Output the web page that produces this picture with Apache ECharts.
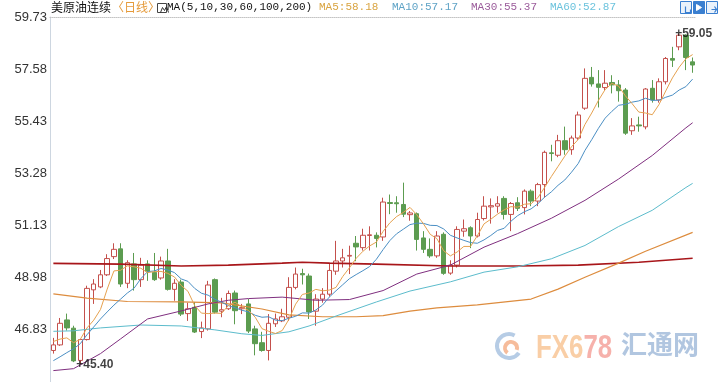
<!DOCTYPE html>
<html><head><meta charset="utf-8">
<script src="https://cdn.jsdelivr.net/npm/echarts@6/dist/echarts.min.js"></script>
<style>html,body{margin:0;padding:0;background:#fff;}#c{width:719px;height:382px;}</style>
</head><body><div id="c"></div>
<script>
// ---- data ----
const categories = ['1','2','3','4','5','6','7','8','9','10','11','12','13','14','15','16','17','18','19','20',
'21','22','23','24','25','26','27','28','29','30','31','32','33','34','35','36','37','38','39','40',
'41','42','43','44','45','46','47','48','49','50','51','52','53','54','55','56','57','58','59','60',
'61','62','63','64','65','66','67','68','69','70','71','72','73','74','75','76','77','78','79','80',
'81','82','83','84','85','86','87','88','89','90','91','92','93','94','95','96'];

const openP = [45.98,46.21,47.24,46.90,45.57,46.43,48.48,48.60,49.10,49.85,
50.17,48.75,49.55,48.90,49.55,49.20,48.97,49.67,48.50,48.80,
47.50,47.76,46.76,46.87,48.90,47.60,47.70,48.35,47.70,47.90,
46.87,46.30,45.98,47.08,47.20,47.35,48.58,49.15,49.05,47.60,
48.10,48.30,49.25,49.67,49.87,50.40,50.22,50.72,50.73,50.66,
52.08,52.07,52.00,51.58,51.62,50.62,50.15,49.88,50.77,49.17,
49.50,50.90,51.04,50.70,51.42,51.90,51.93,52.25,51.59,52.07,
51.87,52.55,52.14,52.82,54.13,54.03,54.63,54.26,54.74,55.97,
57.24,56.97,56.82,57.03,56.93,56.72,55.04,55.28,55.20,56.79,
56.31,57.06,58.02,58.50,58.98,57.88];
const closeP = [46.21,47.10,46.91,45.55,46.43,48.54,48.72,49.10,49.77,50.15,
48.72,49.60,48.90,49.50,49.25,48.90,49.67,48.50,48.75,47.48,
47.70,46.74,46.91,48.68,47.56,47.66,48.33,47.62,47.75,46.78,
46.26,45.98,47.10,47.28,47.37,48.58,49.13,49.10,47.57,48.10,
48.30,49.28,49.67,49.80,49.90,50.25,50.73,50.75,50.60,52.10,
52.04,52.03,51.60,51.65,50.56,50.15,49.88,50.70,49.16,49.50,
50.97,51.00,50.70,51.38,51.93,51.95,52.03,51.59,52.04,51.84,
52.55,52.14,52.82,54.15,54.10,54.63,54.26,54.74,55.69,57.20,
56.97,56.83,57.00,56.93,56.69,54.94,55.24,55.24,56.76,56.31,
57.06,58.02,57.95,58.98,58.06,57.75];
const lowP = [45.85,46.17,46.80,45.50,45.40,46.39,47.90,48.55,49.05,49.75,
48.60,48.55,48.45,48.60,48.85,48.85,48.90,48.45,48.03,47.40,
47.20,46.70,46.49,46.80,47.50,47.35,47.65,47.06,47.48,46.70,
45.78,45.93,45.57,46.95,47.15,47.20,48.50,48.70,47.28,47.00,
47.95,48.20,49.10,49.40,49.13,49.66,50.10,50.10,50.23,50.50,
51.60,51.66,51.48,51.33,50.10,50.00,49.80,49.80,49.10,49.10,
49.40,50.67,50.20,50.64,51.34,51.21,51.66,51.38,50.90,51.73,
51.59,51.93,51.93,52.28,53.78,53.95,54.05,54.05,54.67,55.90,
56.86,56.00,56.72,56.58,56.24,54.87,54.87,55.00,55.10,56.20,
56.20,56.95,57.67,58.36,57.54,57.43];
const highP = [46.50,47.32,47.50,47.00,46.45,48.65,48.92,49.30,49.95,50.40,
50.40,49.70,50.00,49.80,49.70,50.00,49.85,50.17,48.92,48.90,
47.95,47.98,47.17,48.85,48.95,48.15,48.45,48.45,47.90,48.10,
47.00,46.75,47.48,47.50,47.70,49.00,49.40,49.35,49.15,48.30,
48.55,49.60,50.50,50.17,50.30,50.70,51.00,51.10,50.85,52.28,
52.41,52.34,52.90,51.73,51.67,50.90,50.60,50.90,50.85,49.70,
51.10,51.38,51.10,51.66,52.34,52.25,52.34,52.34,52.10,52.30,
52.62,52.62,52.89,54.22,54.46,54.87,55.21,54.84,55.83,57.61,
57.67,57.54,57.54,57.33,57.13,56.80,55.56,55.62,56.80,57.13,
57.20,58.08,58.50,59.05,59.02,58.06];

const ma5 = [46.35,46.45,46.50,46.30,46.44,46.91,47.23,47.67,48.51,49.26,
49.29,49.47,49.43,49.37,49.19,49.23,49.24,49.16,49.01,48.66,
48.42,47.83,47.52,47.50,47.52,47.51,47.83,47.97,47.78,47.63,
47.35,46.88,46.77,46.68,46.80,47.26,47.89,48.29,48.35,48.50,
48.44,48.47,48.58,49.03,49.39,49.78,50.07,50.29,50.45,50.89,
51.24,51.50,51.67,51.88,51.58,51.20,50.77,50.59,50.09,49.88,
50.04,50.27,50.27,50.71,51.20,51.39,51.60,51.78,51.91,51.89,
52.01,52.03,52.28,52.70,53.15,53.57,53.99,54.38,54.68,55.30,
55.77,56.29,56.74,56.99,56.88,56.48,56.16,55.81,55.77,55.70,
56.12,56.68,57.22,57.66,58.01,58.18];
const ma10 = [45.56,45.72,45.89,46.05,46.26,46.63,46.95,47.28,47.57,47.85,
48.10,48.35,48.55,48.94,49.23,49.26,49.36,49.30,49.19,48.93,
48.83,48.54,48.34,48.26,48.09,47.97,47.83,47.74,47.64,47.57,
47.43,47.35,47.37,47.23,47.21,47.31,47.39,47.53,47.52,47.65,
47.85,48.18,48.44,48.69,48.94,49.11,49.27,49.44,49.74,50.14,
50.51,50.79,50.98,51.17,51.23,51.22,51.14,51.13,50.99,50.73,
50.62,50.52,50.43,50.40,50.54,50.72,50.93,51.02,51.31,51.54,
51.70,51.82,52.03,52.30,52.52,52.79,53.01,53.33,53.69,54.23,
54.67,55.14,55.56,55.84,56.09,56.13,56.22,56.27,56.38,56.29,
56.30,56.42,56.51,56.72,56.86,57.17];
// long averages read at sample candles: [candle index, value]
const ma30 = [[0,45.15],[3,45.23],[7,45.85],[10,46.46],[14,47.28],[19,47.61],[23,47.90],[26,48.05],
[29,48.12],[34,48.18],[39,48.05],[44,48.08],[49,48.45],[54,49.13],[59,49.50],[64,50.24],[69,50.80],
[74,51.43],[79,52.17],[84,53.05],[89,54.02],[94,55.16],[95,55.37]];
const ma60 = [[0,46.77],[3,46.79],[7,46.91],[13,47.03],[19,46.99],[24,46.83],[28,46.67],[31,46.60],
[35,46.75],[38,46.99],[42,47.40],[48,47.98],[53,48.43],[59,48.81],[64,49.21],[69,49.43],[74,49.76],
[79,50.31],[84,51.09],[89,51.76],[94,52.70],[95,52.87]];
const ma100 = [[0,48.31],[5,48.14],[11,48.00],[19,47.98],[25,47.94],[31,47.69],[35,47.45],[40,47.37],
[45,47.37],[49,47.42],[53,47.60],[57,47.74],[63,47.86],[71,48.10],[75,48.51],[79,49.00],[84,49.58],
[88,50.07],[95,50.85]];
const ma200 = [[0,49.57],[10,49.54],[19,49.46],[26,49.50],[34,49.58],[37,49.62],[41,49.58],[48,49.54],
[59,49.46],[69,49.46],[78,49.50],[87,49.62],[95,49.78]];

const extremes = [[4,45.40],[93,59.05]];
const yTicks = {min:44.68, max:59.73, step:2.15};
const headerLabels = ['MA5:58.18','MA10:57.17','MA30:55.37','MA60:52.87'];

// ---- chart ----
const candles = openP.map((o,i)=>[o, closeP[i], lowP[i], highP[i]]);
const chart = echarts.init(document.getElementById('c'), null, {renderer:'canvas'});
const line = (name, data, color, w) => ({
  name, type:'line', data, showSymbol:false, symbol:'none', smooth:false, silent:true,
  lineStyle:{color, width:w}, itemStyle:{color}, z:3, connectNulls:true
});
const monoFont = '11px "Liberation Mono"';
chart.setOption({
  animation:false,
  backgroundColor:'#ffffff',
  grid:{left:50, right:23, top:17, bottom:-1.5},
  xAxis:{type:'category', data:categories, position:'top', boundaryGap:true,
    axisLine:{show:true, lineStyle:{color:'#c4c4c4', type:'dotted', width:1}},
    axisTick:{show:false}, axisLabel:{show:false}, splitLine:{show:false}},
  yAxis:{type:'value', min:yTicks.min, max:yTicks.max, interval:yTicks.step, scale:true,
    axisLine:{show:true, lineStyle:{color:'#cdd6e0'}}, axisTick:{show:false},
    splitLine:{show:false},
    axisLabel:{showMinLabel:false, color:'#333', fontSize:13, fontFamily:'Liberation Sans, Arial', margin:3,
      formatter:v=>v.toFixed(2)}},
  series:[
    {type:'candlestick', data:candles, barWidth:5, z:2,
      itemStyle:{color:'#ffffff', color0:'#5c9c50', borderColor:'#c4504c', borderColor0:'#5c9c50', borderWidth:1}},
    line('MA200', ma200, '#a8161a', 1.6),
    line('MA100', ma100, '#dd8c3e', 1.2),
    line('MA60', ma60, '#5cbccc', 1),
    line('MA30', ma30, '#7f2f7f', 1),
    line('MA10', ma10, '#4b8fc4', 1),
    line('MA5', ma5, '#e6a250', 1),
    {type:'scatter', data:extremes, symbolSize:0, z:5, silent:true,
      label:{show:true, position:'right', distance:0, offset:[-4,0], color:'#111',
        fontSize:12, fontWeight:'bold', fontFamily:'Liberation Sans, Arial',
        formatter:p=>'+'+p.value[1].toFixed(2)}}
  ],
  graphic:[
    {type:'text', left:51, top:1, style:{text:'美原油连续', font:'12px "Noto Sans CJK SC"', fill:'#111'}},
    {type:'text', left:112, top:1, style:{text:'〈日线〉', font:'12px "Noto Sans CJK SC"', fill:'#e59a3a'}},
    {type:'rect', left:157, top:3, shape:{width:9, height:9}, style:{fill:'#fff', stroke:'#444', lineWidth:1}},
    {type:'polyline', left:158, top:4, shape:{points:[[0,7],[2,2],[4,5],[6,1],[8,7]]}, style:{stroke:'#333', fill:null, lineWidth:1}},
    {type:'text', left:167, top:2, style:{text:'MA(5,10,30,60,100,200)', font:monoFont, fill:'#111'}},
    {type:'text', left:319, top:2, style:{text:headerLabels[0], font:monoFont, fill:'#d9a441'}},
    {type:'text', left:392, top:2, style:{text:headerLabels[1], font:monoFont, fill:'#5fa3c6'}},
    {type:'text', left:471, top:2, style:{text:headerLabels[2], font:monoFont, fill:'#9b5c9b'}},
    {type:'text', left:550, top:2, style:{text:headerLabels[3], font:monoFont, fill:'#6cc3dd'}},
    // top-right tool icons
    {type:'rect', left:680, top:1, shape:{width:11, height:12}, style:{fill:'#eaf2fb', stroke:'#3a7fd0', lineWidth:1}},
    {type:'rect', left:693, top:1, shape:{width:11, height:12}, style:{fill:'#3a7fd0', stroke:'#3a7fd0', lineWidth:1}},
    {type:'rect', left:706, top:1, shape:{width:11, height:12}, style:{fill:'#eaf2fb', stroke:'#3a7fd0', lineWidth:1}},
    {type:'polyline', left:683, top:4, shape:{points:[[0,0],[0,6],[5,6],[5,3]]}, style:{stroke:'#3a7fd0', fill:null, lineWidth:1.2}},
    {type:'polyline', left:696, top:4, shape:{points:[[0,0],[0,6],[5,3],[0,0]]}, style:{stroke:'#fff', fill:'#fff', lineWidth:1}},
    {type:'polyline', left:709, top:4, shape:{points:[[0,3],[5,3],[3,0],[5,3],[3,6]]}, style:{stroke:'#3a7fd0', fill:null, lineWidth:1.2}},
    // watermark
    {type:'group', silent:true, z:10, children:[
      {type:'arc', shape:{cx:509, cy:346, r:12, startAngle:0.6, endAngle:5.2}, style:{stroke:'#a9c3e0', lineWidth:4, fill:null, opacity:0.85}},
      {type:'arc', shape:{cx:511, cy:348, r:6, startAngle:2.2, endAngle:6.6}, style:{stroke:'#f4b08a', lineWidth:4, fill:null, opacity:0.85}},
      {type:'text', x:536, y:332, scaleX:0.76, style:{text:'{a|FX6}{b|78}', opacity:0.9,
        rich:{a:{fill:'#f8c99c', font:'bold 34px "Liberation Sans"'}, b:{fill:'#f5a9a2', font:'bold 34px "Liberation Sans"'}}}},
      {type:'text', x:621, y:331, style:{text:'汇通网', font:'bold 26px "Noto Sans CJK SC"', fill:'#a3bcdb', opacity:0.85}}
    ]}
  ]
});
</script>
</body></html>
